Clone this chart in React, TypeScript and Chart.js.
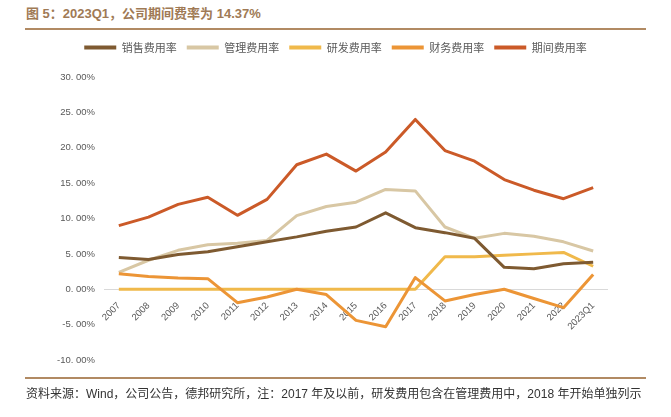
import React, { useEffect, useRef } from "react";
import { Chart, registerables } from "chart.js";

Chart.register(...registerables);

const categories = [
  "2007", "2008", "2009", "2010", "2011", "2012", "2013", "2014", "2015",
  "2016", "2017", "2018", "2019", "2020", "2021", "2022", "2023Q1",
];
const salesRate = [4.5, 4.2, 4.9, 5.3, 6.0, 6.7, 7.4, 8.2, 8.8, 10.8, 8.7, 8.0, 7.2, 3.1, 2.9, 3.6, 3.8];
const mgmtRate = [2.4, 4.1, 5.5, 6.3, 6.5, 6.9, 10.4, 11.7, 12.3, 14.1, 13.9, 8.8, 7.2, 7.9, 7.5, 6.7, 5.4];
const rdRate = [0, 0, 0, 0, 0, 0, 0, 0, 0, 0, 0, 4.6, 4.6, 4.8, 5.0, 5.2, 3.25];
const finRate = [2.2, 1.8, 1.6, 1.5, -1.9, -1.1, 0.0, -0.75, -4.4, -5.3, 1.65, -1.65, -0.75, 0.0, -1.3, -2.6, 2.1];
const periodRate = [9.0, 10.2, 12.0, 13.0, 10.45, 12.7, 17.6, 19.1, 16.7, 19.4, 24.0, 19.6, 18.1, 15.5, 14.0, 12.8, 14.37];

const seriesNames = ["销售费用率", "管理费用率", "研发费用率", "财务费用率", "期间费用率"];
const seriesColors = ["#7e5a31", "#d8c7a4", "#f0b94b", "#ec9536", "#cb5a28"];
const seriesOrder = [2, 3, 4, 1, 0];

const yMin = -10;
const yMax = 30;
const yStep = 5;

const titleText = "图 5：2023Q1，公司期间费率为 14.37%";
const footerText =
  "资料来源：Wind，公司公告，德邦研究所，注：2017 年及以前，研发费用包含在管理费用中，2018 年开始单独列示";

export default function App() {
  const canvasRef = useRef<HTMLCanvasElement | null>(null);

  useEffect(() => {
    if (!canvasRef.current) return;
    const values = [salesRate, mgmtRate, rdRate, finRate, periodRate];
    const chart = new Chart(canvasRef.current, {
      type: "line",
      data: {
        labels: categories,
        datasets: values.map((v, i) => ({
          label: seriesNames[i],
          data: v,
          borderColor: seriesColors[i],
          backgroundColor: seriesColors[i],
          borderWidth: 3,
          pointRadius: 0,
          pointHoverRadius: 0,
          tension: 0,
          fill: false,
          order: seriesOrder[i],
          borderJoinStyle: "round" as const,
          yAxisID: "y",
        })),
      },
      options: {
        responsive: false,
        animation: false,
        devicePixelRatio: 1,
        layout: { padding: { top: 32, left: 0, right: 0, bottom: 57 } },
        plugins: {
          tooltip: { enabled: false },
          title: {
            display: true,
            text: " ",
            weight: 500,
            position: "top",
            padding: { top: 2, bottom: 0 },
            font: { size: 10, lineHeight: 1.2 },
            color: "rgba(0,0,0,0)",
          } as any,
          legend: {
            position: "top",
            align: "center",
            labels: {
              boxWidth: 32,
              boxHeight: 4,
              padding: 10,
              color: "#595959",
              font: { size: 11, family: "'Noto Sans CJK SC', 'Noto Sans', sans-serif" },
              generateLabels: (c: any) => {
                const items = Chart.defaults.plugins.legend.labels.generateLabels(c);
                return items
                  .map((it: any) => ({ ...it, lineWidth: 0, strokeStyle: "rgba(0,0,0,0)" }))
                  .sort((a: any, b: any) => a.datasetIndex - b.datasetIndex);
              },
            },
          },
        },
        scales: {
          x: {
            type: "category",
            offset: true,
            position: { y: 0 } as any,
            grid: { display: false },
            border: { display: false },
            ticks: {
              autoSkip: false,
              minRotation: 45,
              maxRotation: 45,
              padding: 3,
              color: "#595959",
              font: { size: 9.5, family: "'Liberation Sans', Arial, sans-serif" },
            },
            afterFit: (s: any) => {
              s.height = 0;
            },
          },
          y: {
            position: "left",
            min: yMin,
            max: yMax,
            ticks: {
              stepSize: yStep,
              padding: 9,
              color: "#595959",
              font: { size: 9.5, family: "'Liberation Sans', Arial, sans-serif" },
              callback: (v: any) => `${Number(v).toFixed(2).replace(".", ". ")}%`,
            },
            grid: {
              drawTicks: false,
              lineWidth: 1,
              color: (ctx: any) =>
                ctx.tick && ctx.tick.value === 0 ? "#d9d9d9" : "rgba(0,0,0,0)",
            },
            border: { display: false },
            afterFit: (s: any) => {
              s.width = 104;
            },
          },
          y2: {
            position: "right",
            min: yMin,
            max: yMax,
            grid: { display: false, drawTicks: false },
            border: { display: false },
            ticks: { display: false },
            afterFit: (s: any) => {
              s.width = 63;
            },
          },
        },
      },
    });
    return () => chart.destroy();
  }, []);

  return (
    <div
      style={{
        position: "fixed",
        left: 0,
        top: 0,
        width: 671,
        height: 417,
        background: "#ffffff",
        overflow: "hidden",
      }}
    >
      <div
        style={{
          position: "absolute",
          left: 26,
          top: 4,
          lineHeight: "20px",
          fontSize: 13,
          fontWeight: "bold",
          color: "#a07a55",
          fontFamily: "'Liberation Sans', 'Noto Sans CJK SC', sans-serif",
          whiteSpace: "nowrap",
        }}
      >
        {titleText}
      </div>
      <div
        style={{
          position: "absolute",
          left: 25,
          top: 27.5,
          width: 621,
          height: 2,
          background: "#b18a63",
        }}
      />
      <canvas
        ref={canvasRef}
        width={671}
        height={417}
        style={{ position: "absolute", left: 0, top: 0, width: 671, height: 417 }}
      />
      <div
        style={{
          position: "absolute",
          left: 25,
          top: 376.5,
          width: 621,
          height: 2,
          background: "#b18a63",
        }}
      />
      <div
        style={{
          position: "absolute",
          left: 26,
          top: 386,
          lineHeight: "16px",
          fontSize: 12,
          color: "#333333",
          fontFamily: "'Liberation Sans', 'Noto Sans CJK SC', sans-serif",
          whiteSpace: "nowrap",
        }}
      >
        {footerText}
      </div>
    </div>
  );
}
